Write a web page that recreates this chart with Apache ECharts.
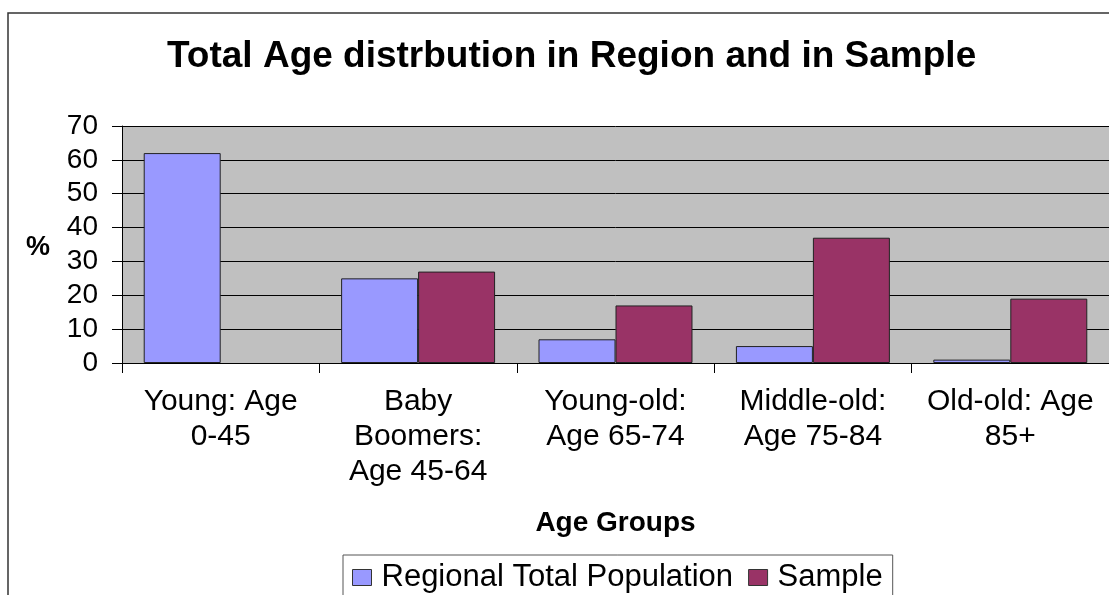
<!DOCTYPE html>
<html><head><meta charset="utf-8">
<script src="https://cdn.jsdelivr.net/npm/echarts@6/dist/echarts.min.js"></script>
<style>html,body{margin:0;padding:0;background:#fff}#c{width:1109px;height:595px}</style>
</head><body><div id="c"></div>
<script>
const categories = ["Young: Age\n0-45", "Baby\nBoomers:\nAge 45-64", "Young-old:\nAge 65-74", "Middle-old:\nAge 75-84", "Old-old: Age\n85+"];
const regional = [62, 25, 7, 5, 1];
const sample = [null, 27, 17, 37, 19];
const yTicks = [0, 10, 20, 30, 40, 50, 60, 70];

const chart = echarts.init(document.getElementById('c'), null, {renderer: 'canvas'});
const F = 'Arial, "Liberation Sans", sans-serif';
chart.setOption({
  animation: false,
  backgroundColor: '#fff',
  title: {
    text: 'Total Age distrbution in Region and in Sample',
    left: 162, top: 33,
    textStyle: {fontFamily: F, fontSize: 37, fontWeight: 'bold', color: '#000'}
  },
  graphic: [
    {type: 'rect', shape: {x: 8, y: 13, width: 1120, height: 600}, style: {fill: 'none', stroke: '#333', lineWidth: 1.5}, silent: true, z: -1},
    {type: 'text', left: 26, top: 234, style: {text: '%', font: 'bold 27px ' + F, fill: '#000'}}
  ],
  legend: {
    left: 343, top: 555,
    data: ['Regional Total Population', 'Sample'],
    icon: 'rect', itemWidth: 19, itemHeight: 16, itemGap: 15,
    borderColor: '#555', borderWidth: 1, padding: [7, 10, 10, 9],
    itemStyle: {borderColor: '#333', borderWidth: 1},
    textStyle: {fontFamily: F, fontSize: 31, color: '#000', padding: [0, 0, 0, 5]}
  },
  grid: {left: 122, top: 126, right: -3, bottom: 232, show: true, backgroundColor: '#C0C0C0', borderWidth: 0},
  xAxis: {
    type: 'category', data: categories,
    name: 'Age Groups', nameLocation: 'middle', nameGap: 146,
    nameTextStyle: {fontFamily: F, fontSize: 28, fontWeight: 'bold', color: '#000'},
    axisLine: {lineStyle: {color: '#000', width: 1}},
    axisTick: {show: true, length: 10, lineStyle: {color: '#000'}, alignWithLabel: false},
    axisLabel: {fontFamily: F, fontSize: 30, color: '#000', lineHeight: 35, margin: 21, interval: 0}
  },
  yAxis: {
    type: 'value', min: 0, max: 70, interval: 10,
    axisLine: {show: true, lineStyle: {color: '#000'}},
    axisTick: {show: true, length: 10, lineStyle: {color: '#000'}},
    splitLine: {show: true, lineStyle: {color: '#000', width: 1}},
    axisLabel: {fontFamily: F, fontSize: 28, color: '#000', margin: 24,
      formatter: v => yTicks.includes(v) ? String(v) : ''}
  },
  series: [
    {name: 'Regional Total Population', type: 'bar', data: regional, barGap: '0%', barCategoryGap: '22%',
     itemStyle: {color: '#9999FF', borderColor: '#222', borderWidth: 1}},
    {name: 'Sample', type: 'bar', data: sample,
     itemStyle: {color: '#993366', borderColor: '#222', borderWidth: 1}}
  ]
});
</script></body></html>
